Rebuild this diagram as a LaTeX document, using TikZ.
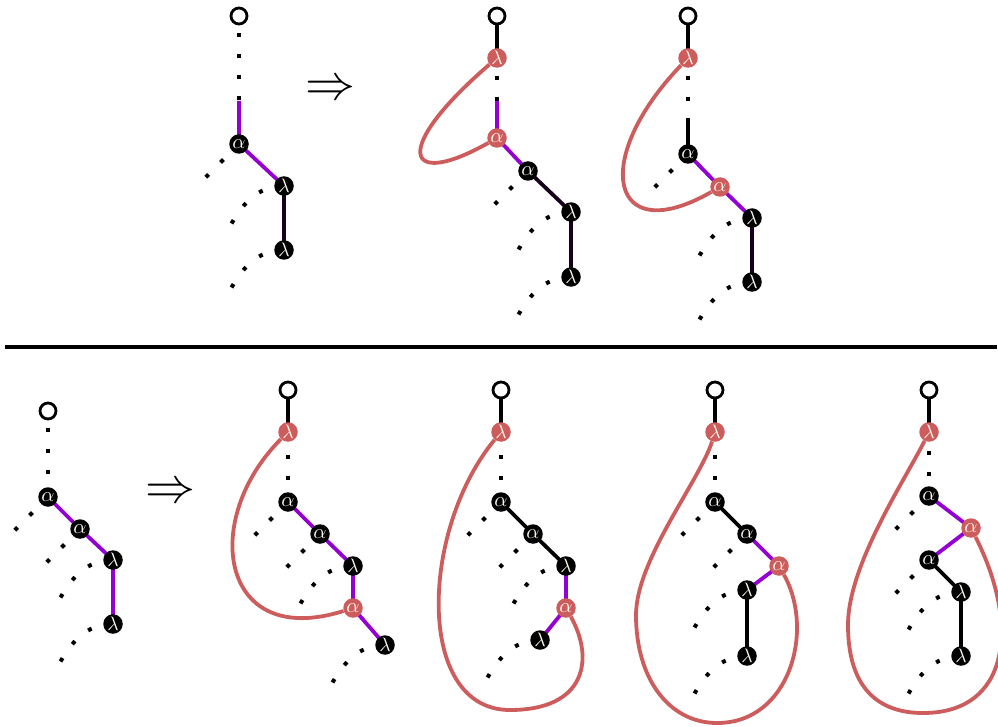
\documentclass[tikz,border=0pt]{standalone}
\usepackage{graphicx}
\definecolor{loopred}{RGB}{205,92,92}
\definecolor{vio}{RGB}{148,0,211}
\definecolor{darkedge}{RGB}{22,0,28}
\definecolor{ntext}{RGB}{248,248,235}
\pgfdeclarelayer{bg}
\pgfsetlayers{bg,main}
\tikzset{
 vnode/.style={circle, inner sep=0pt, minimum size=19.5pt, text=ntext},
 bnode/.style={vnode, fill=black},
 rnode/.style={vnode, fill=loopred},
 onode/.style={circle, draw=black, line width=2.8pt, fill=white, inner sep=0pt, minimum size=16pt},
 edgeb/.style={line width=3.8pt, black},
 edgev/.style={line width=3.8pt, vio},
 edged/.style={line width=3.8pt, darkedge},
 dotline/.style={line width=4pt, black, dash pattern=on 4pt off 17pt, dash phase=#1},
 dotline/.default=20pt,
 redloop/.style={line width=3.8pt, loopred},
 implies/.style={inner sep=0pt},
}
\newcommand\nal{\scalebox{2.05}{$\alpha$}}
\newcommand\nla{\scalebox{1.95}{$\lambda$}}
\newcommand\lamstub[1]{\draw[dotline=20pt, shift={(#1)}] (0,0) .. controls (-28,0) and (-43,20) .. (-55,42);}
\newcommand\alpstub[1]{\draw[dotline=20pt] (#1.center) -- +(-34,34);}
\begin{document}
\begin{tikzpicture}[x=1pt,y=-1pt]
\useasboundingbox (0,0) rectangle (998,727);
\clip (0,0) rectangle (998,727);
% ---------- top panel 1
\node[onode] (o1) at (239,16) {};
\coordinate (c1) at (239,101);
\node[bnode] (a1) at (239,144) {\nal};
\node[bnode] (l1a) at (284,186) {\nla};
\node[bnode] (l1b) at (284,250) {\nla};
\node[implies] (imp1) at (330,90) {\scalebox{5}{$\Rightarrow$}};
% ---------- top panel 2
\node[onode] (o2) at (497,16) {};
\node[rnode] (r2l) at (497,58) {\nla};
\coordinate (c2) at (497,101);
\node[rnode] (r2a) at (497,138) {\nal};
\node[bnode] (a2) at (528,171) {\nal};
\node[bnode] (l2a) at (571,212) {\nla};
\node[bnode] (l2b) at (571,277) {\nla};
% ---------- top panel 3
\node[onode] (o3) at (688,16) {};
\node[rnode] (r3l) at (688,58) {\nla};
\coordinate (c3) at (688,122);
\node[bnode] (a3) at (688,154) {\nal};
\node[rnode] (r3a) at (720,187) {\nal};
\node[bnode] (l3a) at (752,218) {\nla};
\node[bnode] (l3b) at (752,282) {\nla};
% ---------- bottom panel 1
\node[onode] (o4) at (48,411) {};
\node[bnode] (a4a) at (48,497) {\nal};
\node[bnode] (a4b) at (80,529) {\nal};
\node[bnode] (l4a) at (113,560) {\nla};
\node[bnode] (l4b) at (113,624) {\nla};
\node[implies] (imp2) at (170,493) {\scalebox{5}{$\Rightarrow$}};
% ---------- bottom panel 2
\node[onode] (o5) at (288,390) {};
\node[rnode] (r5l) at (288,432) {\nla};
\node[bnode] (a5a) at (288,502) {\nal};
\node[bnode] (a5b) at (320,534) {\nal};
\node[bnode] (l5a) at (353,566) {\nla};
\node[rnode] (r5a) at (353,608) {\nal};
\node[bnode] (l5b) at (385,645) {\nla};
% ---------- bottom panel 3
\node[onode] (o6) at (501,390) {};
\node[rnode] (r6l) at (501,432) {\nla};
\node[bnode] (a6a) at (501,502) {\nal};
\node[bnode] (a6b) at (533,534) {\nal};
\node[bnode] (l6a) at (566,566) {\nla};
\node[rnode] (r6a) at (566,608) {\nal};
\node[bnode] (l6b) at (540,640) {\nla};
% ---------- bottom panel 4
\node[onode] (o7) at (715,390) {};
\node[rnode] (r7l) at (715,432) {\nla};
\node[bnode] (a7a) at (715,502) {\nal};
\node[bnode] (a7b) at (747,534) {\nal};
\node[rnode] (r7a) at (779,566) {\nal};
\node[bnode] (l7a) at (747,590) {\nla};
\node[bnode] (l7b) at (747,656) {\nla};
% ---------- bottom panel 5
\node[onode] (o8) at (929,390) {};
\node[rnode] (r8l) at (929,432) {\nla};
\node[bnode] (a8a) at (929,496) {\nal};
\node[rnode] (r8a) at (971,528) {\nal};
\node[bnode] (a8b) at (929,560) {\nal};
\node[bnode] (l8a) at (961,592) {\nla};
\node[bnode] (l8b) at (961,656) {\nla};

\begin{pgfonlayer}{bg}
% separator
\draw[line width=4pt] (5,347) -- (997,347);
% top 1
\draw[dotline=4pt] (o1.center) -- (c1);
\draw[edgev] (c1) -- (a1.center) -- (l1a.center);
\draw[edged] (l1a.center) -- (l1b.center);
\alpstub{a1} \lamstub{l1a} \lamstub{l1b}
% top 2
\draw[edgeb] (o2.center) -- (r2l.center);
\draw[dotline=3pt] (r2l.center) -- (c2);
\draw[edgev] (c2) -- (r2a.center) -- (a2.center);
\draw[edged] (a2.center) -- (l2a.center) -- (l2b.center);
\alpstub{a2} \lamstub{l2a} \lamstub{l2b}
\draw[redloop] (r2l) .. controls (390,150) and (405,190) .. (r2a);
% top 3
\draw[edgeb] (o3.center) -- (r3l.center);
\draw[dotline=3pt] (r3l.center) -- (c3);
\draw[edgeb] (c3) -- (a3.center);
\draw[edgev] (a3.center) -- (r3a.center) -- (l3a.center);
\draw[edged] (l3a.center) -- (l3b.center);
\alpstub{a3} \lamstub{l3a} \lamstub{l3b}
\draw[redloop] (r3l) .. controls (590,160) and (610,250) .. (r3a);
% bottom 1
\draw[dotline=4pt] (o4.center) -- (a4a.center);
\draw[edgev] (a4a.center) -- (a4b.center) -- (l4a.center) -- (l4b.center);
\alpstub{a4a} \alpstub{a4b} \lamstub{l4a} \lamstub{l4b}
% bottom 2
\draw[edgeb] (o5.center) -- (r5l.center);
\draw[dotline=19pt] (r5l.center) -- (a5a.center);
\draw[edgev] (a5a.center) -- (a5b.center) -- (l5a.center) -- (r5a.center) -- (l5b.center);
\alpstub{a5a} \alpstub{a5b} \lamstub{l5a} \lamstub{l5b}
\draw[redloop] (r5l) .. controls (200,520) and (220,650) .. (r5a);
% bottom 3
\draw[edgeb] (o6.center) -- (r6l.center);
\draw[dotline=19pt] (r6l.center) -- (a6a.center);
\draw[edgeb] (a6a.center) -- (a6b.center) -- (l6a.center);
\draw[edgev] (l6a.center) -- (r6a.center) -- (l6b.center);
\alpstub{a6a} \alpstub{a6b} \lamstub{l6a} \lamstub{l6b}
\draw[redloop] (r6l) .. controls (420,530) and (415,710) .. (510,710)
  .. controls (585,710) and (595,660) .. (r6a);
% bottom 4
\draw[edgeb] (o7.center) -- (r7l.center);
\draw[dotline=19pt] (r7l.center) -- (a7a.center);
\draw[edgeb] (a7a.center) -- (a7b.center);
\draw[edgev] (a7b.center) -- (r7a.center) -- (l7a.center);
\draw[edgeb] (l7a.center) -- (l7b.center);
\alpstub{a7a} \alpstub{a7b} \lamstub{l7a} \lamstub{l7b}
\draw[redloop] (r7l) .. controls (700,480) and (636,560) .. (636,615)
  .. controls (636,680) and (670,723) .. (717,723)
  .. controls (790,723) and (815,630) .. (r7a);
% bottom 5
\draw[edgeb] (o8.center) -- (r8l.center);
\draw[dotline=2pt] (r8l.center) -- (a8a.center);
\draw[edgev] (a8a.center) -- (r8a.center) -- (a8b.center);
\draw[edgeb] (a8b.center) -- (l8a.center) -- (l8b.center);
\alpstub{a8a} \alpstub{a8b} \lamstub{l8a} \lamstub{l8b}
\draw[redloop] (r8l) .. controls (905,480) and (848,565) .. (848,625)
  .. controls (848,690) and (880,713) .. (923,713)
  .. controls (1010,713) and (1020,625) .. (r8a);
\end{pgfonlayer}
\end{tikzpicture}
\end{document}
